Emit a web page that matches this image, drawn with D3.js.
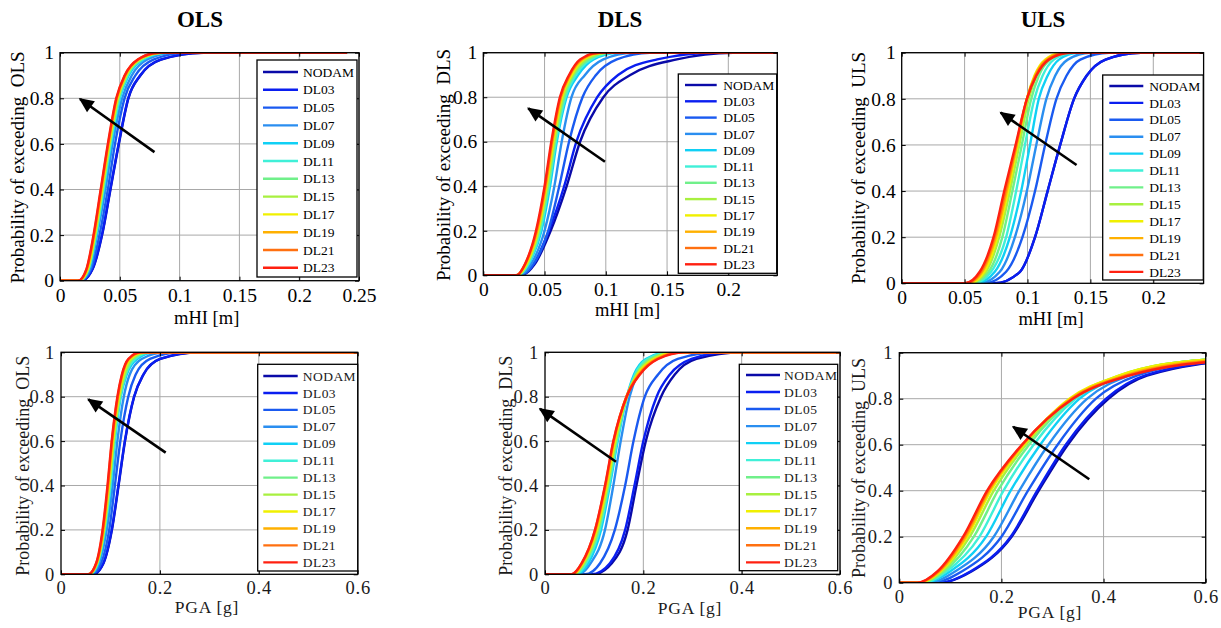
<!DOCTYPE html>
<html>
<head>
<meta charset="utf-8">
<script src="https://cdn.jsdelivr.net/npm/d3@7"></script>
<style>
  body { margin: 0; background: #fff; }
  svg { display: block; }
  text { font-family: 'Liberation Serif', 'Times New Roman', serif; }
</style>
</head>
<body>
<svg width="1221" height="628"></svg>
<script>
var svg = d3.select('svg')

// ---- data ----
const series = ['NODAM', 'DL03', 'DL05', 'DL07', 'DL09', 'DL11', 'DL13', 'DL15', 'DL17', 'DL19', 'DL21', 'DL23']
const colors = ['#0a0aa8', '#0a1ef0', '#1a5af0', '#2a8ef0', '#10d0f5', '#40f0d8',
  '#70f08a', '#a8f040', '#f0f000', '#ffb000', '#ff7010', '#ff2010']

const probLevels = [0, 0.05, 0.2, 0.4, 0.6, 0.8, 0.9, 0.97, 1]

// x value (mHI or PGA) where each curve reaches probLevels, same order as series
const olsMhi = [
  [0.018, 0.0272, 0.0352, 0.0422, 0.0492, 0.0572, 0.0672, 0.0845, 0.12],
  [0.018, 0.027, 0.035, 0.042, 0.049, 0.057, 0.067, 0.084, 0.118],
  [0.017, 0.026, 0.033, 0.040, 0.046, 0.054, 0.063, 0.078, 0.105],
  [0.017, 0.025, 0.031, 0.038, 0.044, 0.052, 0.060, 0.073, 0.095],
  [0.016, 0.024, 0.0303, 0.0366, 0.0427, 0.050, 0.0575, 0.070, 0.089],
  [0.016, 0.0238, 0.030, 0.0362, 0.0422, 0.0495, 0.0565, 0.0685, 0.087],
  [0.016, 0.0236, 0.0296, 0.0358, 0.0418, 0.049, 0.056, 0.068, 0.086],
  [0.016, 0.0233, 0.0293, 0.0354, 0.0414, 0.0485, 0.0555, 0.067, 0.085],
  [0.016, 0.023, 0.029, 0.035, 0.041, 0.048, 0.055, 0.066, 0.084],
  [0.0155, 0.0225, 0.0286, 0.0346, 0.0406, 0.0476, 0.0546, 0.0656, 0.083],
  [0.0152, 0.0222, 0.0283, 0.0343, 0.0403, 0.0473, 0.0543, 0.0653, 0.083],
  [0.015, 0.022, 0.028, 0.034, 0.040, 0.047, 0.054, 0.065, 0.082]
]
const dlsMhi = [
  [0.031, 0.042, 0.055, 0.068, 0.079, 0.098, 0.120, 0.158, 0.204],
  [0.030, 0.041, 0.0535, 0.066, 0.076, 0.093, 0.110, 0.142, 0.188],
  [0.030, 0.041, 0.053, 0.062, 0.070, 0.081, 0.092, 0.109, 0.136],
  [0.029, 0.039, 0.050, 0.058, 0.064, 0.072, 0.083, 0.098, 0.122],
  [0.0285, 0.037, 0.0475, 0.0545, 0.060, 0.068, 0.0775, 0.090, 0.11],
  [0.0285, 0.0365, 0.0465, 0.0535, 0.0592, 0.067, 0.0755, 0.088, 0.106],
  [0.028, 0.036, 0.0457, 0.053, 0.0585, 0.066, 0.074, 0.086, 0.103],
  [0.028, 0.0355, 0.045, 0.052, 0.0578, 0.065, 0.073, 0.084, 0.10],
  [0.0275, 0.035, 0.0445, 0.0515, 0.057, 0.064, 0.072, 0.082, 0.098],
  [0.027, 0.0345, 0.044, 0.051, 0.0565, 0.0635, 0.071, 0.081, 0.096],
  [0.027, 0.034, 0.0435, 0.0505, 0.056, 0.063, 0.0705, 0.080, 0.095],
  [0.027, 0.034, 0.043, 0.050, 0.0555, 0.0625, 0.070, 0.079, 0.094]
]
const ulsMhi = [
  [0.074, 0.094, 0.106, 0.116, 0.126, 0.137, 0.147, 0.162, 0.19],
  [0.074, 0.094, 0.106, 0.116, 0.126, 0.137, 0.147, 0.162, 0.19],
  [0.066, 0.083, 0.096, 0.106, 0.114, 0.123, 0.131, 0.142, 0.165],
  [0.062, 0.078, 0.090, 0.0995, 0.107, 0.115, 0.122, 0.132, 0.150],
  [0.059, 0.074, 0.086, 0.095, 0.102, 0.109, 0.116, 0.125, 0.140],
  [0.057, 0.071, 0.083, 0.091, 0.098, 0.1055, 0.112, 0.121, 0.136],
  [0.055, 0.069, 0.080, 0.088, 0.0955, 0.103, 0.109, 0.118, 0.132],
  [0.054, 0.067, 0.0775, 0.086, 0.0935, 0.101, 0.107, 0.116, 0.130],
  [0.053, 0.0655, 0.076, 0.0845, 0.092, 0.0995, 0.1055, 0.114, 0.128],
  [0.052, 0.064, 0.0748, 0.0835, 0.0915, 0.0995, 0.106, 0.115, 0.130],
  [0.051, 0.063, 0.0738, 0.0825, 0.091, 0.0995, 0.1065, 0.116, 0.132],
  [0.050, 0.062, 0.073, 0.0815, 0.0905, 0.0995, 0.107, 0.117, 0.134]
]
const olsPga = [
  [0.065, 0.086, 0.103, 0.1165, 0.1295, 0.148, 0.167, 0.201, 0.28],
  [0.065, 0.0855, 0.1025, 0.116, 0.129, 0.1476, 0.1665, 0.200, 0.275],
  [0.062, 0.081, 0.0975, 0.109, 0.120, 0.136, 0.151, 0.180, 0.24],
  [0.060, 0.077, 0.0925, 0.1045, 0.114, 0.127, 0.139, 0.163, 0.21],
  [0.058, 0.075, 0.089, 0.1005, 0.109, 0.121, 0.133, 0.154, 0.19],
  [0.058, 0.074, 0.088, 0.0995, 0.108, 0.120, 0.131, 0.150, 0.183],
  [0.057, 0.0735, 0.0875, 0.0985, 0.107, 0.119, 0.130, 0.146, 0.177],
  [0.057, 0.073, 0.087, 0.0975, 0.106, 0.118, 0.128, 0.143, 0.172],
  [0.056, 0.0725, 0.086, 0.0965, 0.105, 0.1165, 0.126, 0.140, 0.168],
  [0.056, 0.072, 0.0855, 0.0955, 0.104, 0.1155, 0.1245, 0.138, 0.165],
  [0.055, 0.0715, 0.0848, 0.0948, 0.103, 0.1148, 0.1238, 0.137, 0.162],
  [0.055, 0.071, 0.084, 0.094, 0.1025, 0.114, 0.123, 0.136, 0.16]
]
const dlsPga = [
  [0.098, 0.136, 0.168, 0.186, 0.205, 0.236, 0.264, 0.308, 0.40],
  [0.095, 0.132, 0.163, 0.182, 0.200, 0.227, 0.254, 0.298, 0.37],
  [0.081, 0.112, 0.142, 0.163, 0.180, 0.203, 0.230, 0.270, 0.35],
  [0.068, 0.093, 0.122, 0.139, 0.154, 0.172, 0.188, 0.213, 0.26],
  [0.064, 0.088, 0.114, 0.132, 0.148, 0.1665, 0.181, 0.205, 0.25],
  [0.062, 0.084, 0.111, 0.130, 0.1465, 0.1665, 0.183, 0.208, 0.255],
  [0.060, 0.081, 0.109, 0.1285, 0.145, 0.1665, 0.185, 0.213, 0.26],
  [0.058, 0.079, 0.107, 0.127, 0.1435, 0.1665, 0.187, 0.218, 0.265],
  [0.057, 0.077, 0.105, 0.1255, 0.142, 0.166, 0.188, 0.222, 0.27],
  [0.056, 0.076, 0.1035, 0.124, 0.1405, 0.1655, 0.190, 0.225, 0.275],
  [0.055, 0.075, 0.102, 0.1225, 0.1395, 0.1655, 0.192, 0.228, 0.28],
  [0.054, 0.0746, 0.1017, 0.122, 0.139, 0.166, 0.193, 0.230, 0.285]
]
const ulsPga = [
  [0.080, 0.142, 0.220, 0.273, 0.330, 0.410, 0.485, 0.68, 1.05],
  [0.080, 0.140, 0.218, 0.270, 0.326, 0.405, 0.480, 0.67, 1.05],
  [0.065, 0.123, 0.200, 0.252, 0.310, 0.385, 0.465, 0.64, 1.0],
  [0.057, 0.110, 0.185, 0.235, 0.292, 0.368, 0.450, 0.62, 0.98],
  [0.050, 0.100, 0.170, 0.218, 0.276, 0.353, 0.440, 0.60, 0.95],
  [0.045, 0.093, 0.157, 0.204, 0.263, 0.345, 0.435, 0.60, 0.95],
  [0.042, 0.088, 0.146, 0.193, 0.254, 0.340, 0.432, 0.60, 0.95],
  [0.040, 0.084, 0.138, 0.185, 0.248, 0.336, 0.430, 0.60, 0.95],
  [0.038, 0.081, 0.133, 0.179, 0.244, 0.333, 0.430, 0.60, 0.95],
  [0.037, 0.079, 0.130, 0.176, 0.242, 0.336, 0.440, 0.63, 1.0],
  [0.036, 0.077, 0.127, 0.174, 0.241, 0.338, 0.445, 0.65, 1.0],
  [0.035, 0.075, 0.125, 0.172, 0.240, 0.340, 0.450, 0.66, 1.0]
]

// arrows [tail, head] in data units
const arrowOlsMhi = [[0.079, 0.564], [0.0167, 0.797]]
const arrowDlsMhi = [[0.0993, 0.51], [0.0367, 0.75]]
const arrowUlsMhi = [[0.139, 0.513], [0.0787, 0.74]]
const arrowOlsPga = [[0.2117, 0.548], [0.0552, 0.788]]
const arrowDlsPga = [[0.1444, 0.507], [-0.0102, 0.745]]
const arrowUlsPga = [[0.372, 0.45], [0.223, 0.678]]

const yTicks = [0, 0.2, 0.4, 0.6, 0.8, 1]
const mhiTicksWide = [0, 0.05, 0.1, 0.15, 0.2, 0.25]
const mhiTicks = [0, 0.05, 0.1, 0.15, 0.2]
const pgaTicks = [0, 0.2, 0.4, 0.6]

// ---- layout ----
const panels = [
  {data: olsMhi, arrow: arrowOlsMhi, title: 'OLS', titleX: 200, xMax: 0.25, lineEnd: 0.24, xTicks: mhiTicksWide,
    xLabel: 'mHI [m]', yLabel: 'Probability of exceeding  OLS', x0: 60, x1: 359, y0: 52.7, y1: 280.7,
    xl: [206.7, 324], yl: [17.5, 167.5], fs: 18.5, ls: 0,
    legend: {x0: 257, y0: 60, x1: 357, y1: 277, row0: 72, dy: 17.8, lx0: 263, lx1: 298, tx: 303}},
  {data: dlsMhi, arrow: arrowDlsMhi, title: 'DLS', titleX: 620, xMax: 0.24, lineEnd: 0.24, xTicks: mhiTicks,
    xLabel: 'mHI [m]', yLabel: 'Probability of exceeding  DLS', x0: 483.3, x1: 777.3, y0: 52.7, y1: 275.3,
    xl: [627.5, 316], yl: [443, 165], fs: 18.5, ls: 0,
    legend: {x0: 678.3, y0: 74, x1: 776.7, y1: 273.3, row0: 85, dy: 16.3, lx0: 685, lx1: 716.7, tx: 723.3}},
  {data: ulsMhi, arrow: arrowUlsMhi, title: 'ULS', titleX: 1043, xMax: 0.24, lineEnd: 0.24, xTicks: mhiTicks,
    xLabel: 'mHI [m]', yLabel: 'Probability of exceeding  ULS', x0: 901.7, x1: 1203.6, y0: 52.7, y1: 283.3,
    xl: [1051, 325], yl: [858, 168], fs: 18.5, ls: 0,
    legend: {x0: 1102.7, y0: 75, x1: 1203.3, y1: 280, row0: 86, dy: 16.9, lx0: 1109.3, lx1: 1143.3, tx: 1149.3}},
  {data: olsPga, arrow: arrowOlsPga, xMax: 0.6, lineEnd: 0.6, xTicks: pgaTicks,
    xLabel: 'PGA [g]', yLabel: 'Probability of exceeding  OLS', x0: 61, x1: 357.7, y0: 352.3, y1: 574.3,
    xl: [207, 612.5], yl: [22.5, 465.8], fs: 17.5, ls: 0.8,
    legend: {x0: 257.7, y0: 364.3, x1: 357.7, y1: 571, row0: 376, dy: 16.94, lx0: 263.3, lx1: 297.7, tx: 302.7}},
  {data: dlsPga, arrow: arrowDlsPga, xMax: 0.6, lineEnd: 0.6, xTicks: pgaTicks,
    xLabel: 'PGA [g]', yLabel: 'Probability of exceeding  DLS', x0: 545, x1: 840, y0: 352.3, y1: 574.3,
    xl: [690, 613.5], yl: [506, 465.8], fs: 17.5, ls: 0.8,
    legend: {x0: 739.3, y0: 364.3, x1: 837.7, y1: 570.7, row0: 375, dy: 17.03, lx0: 746, lx1: 780, tx: 784}},
  {data: ulsPga, arrow: arrowUlsPga, xMax: 0.6, lineEnd: 0.6, xTicks: pgaTicks,
    xLabel: 'PGA [g]', yLabel: 'Probability of exceeding  ULS', x0: 899.3, x1: 1205.7, y0: 352.7, y1: 582.7,
    xl: [1050, 617.5], yl: [859, 468], fs: 17.5, ls: 0.8, legend: null}
]

svg.append('defs').append('marker')
    .attr('id', 'head')
    .attr('viewBox', '0 0 10 10')
    .attr('refX', 9).attr('refY', 5)
    .attr('markerUnits', 'userSpaceOnUse')
    .attr('markerWidth', 17).attr('markerHeight', 15)
    .attr('orient', 'auto')
  .append('path')
    .attr('d', 'M0,0.5 L10,5 L0,9.5 z')
    .attr('fill', '#000')

const fmt = d3.format('~g')

panels.forEach(function (p, pi) {
  var w = p.x1 - p.x0, h = p.y1 - p.y0
  var x = d3.scaleLinear().domain([0, p.xMax]).range([0, w])
  var y = d3.scaleLinear().domain([0, 1]).range([h, 0])
  var g = svg.append('g').attr('transform', 'translate(' + p.x0 + ',' + p.y0 + ')')
  var txtFill = pi < 3 ? '#000' : '#1a1a1a'

  svg.select('defs').append('clipPath').attr('id', 'clip' + pi)
    .append('rect').attr('width', w).attr('height', h)

  // grid
  g.append('g').selectAll('line').data(p.xTicks.slice(1)).join('line')
      .attr('x1', d => x(d)).attr('x2', d => x(d)).attr('y1', 0).attr('y2', h)
      .attr('stroke', '#a8a8a8').attr('stroke-width', 1)
  g.append('g').selectAll('line').data(yTicks.slice(1)).join('line')
      .attr('x1', 0).attr('x2', w).attr('y1', d => y(d)).attr('y2', d => y(d))
      .attr('stroke', '#a8a8a8').attr('stroke-width', 1)

  // curves
  var line = d3.line().curve(d3.curveMonotoneX).x(d => x(d[0])).y(d => y(d[1]))
  var curves = p.data.map(function (q) {
    var pts = [[0, 0]].concat(q.map((v, i) => [v, probLevels[i]]))
    if (q[q.length - 1] < p.lineEnd) pts.push([p.lineEnd, 1])
    return pts
  })
  g.append('g').attr('clip-path', 'url(#clip' + pi + ')')
    .selectAll('path').data(curves).join('path')
      .attr('d', line)
      .attr('fill', 'none')
      .attr('stroke', (d, i) => colors[i])
      .attr('stroke-width', 2.4)
      .attr('stroke-linejoin', 'round')

  // axes (ticks inside, all four sides)
  var axB = g.append('g').attr('transform', 'translate(0,' + h + ')')
      .call(d3.axisBottom(x).tickValues(p.xTicks).tickFormat(fmt).tickSizeInner(-4).tickSizeOuter(0).tickPadding(7))
  var axL = g.append('g')
      .call(d3.axisLeft(y).tickValues(yTicks).tickFormat(fmt).tickSizeInner(-4).tickSizeOuter(0).tickPadding(6))
  g.append('g').call(d3.axisTop(x).tickValues(p.xTicks).tickFormat('').tickSizeInner(-4).tickSizeOuter(0))
  g.append('g').attr('transform', 'translate(' + w + ',0)')
      .call(d3.axisRight(y).tickValues(yTicks).tickFormat('').tickSizeInner(-4).tickSizeOuter(0))
  g.selectAll('.domain').remove()
  g.selectAll('.tick line').attr('stroke', '#000')
  ;[axB, axL].forEach(function (a) {
    a.selectAll('text')
        .attr('font-family', "'Liberation Serif', 'Times New Roman', serif")
        .attr('font-size', p.fs + 1)
        .attr('letter-spacing', p.ls)
        .attr('fill', txtFill)
  })

  g.append('rect').attr('width', w).attr('height', h)
      .attr('fill', 'none').attr('stroke', '#000').attr('stroke-width', 1.3)

  // legend
  if (p.legend) {
    var L = p.legend
    svg.append('rect')
        .attr('x', L.x0).attr('y', L.y0).attr('width', L.x1 - L.x0).attr('height', L.y1 - L.y0)
        .attr('fill', '#fff').attr('stroke', '#000').attr('stroke-width', 1.3)
    var items = svg.append('g').selectAll('g').data(series).join('g')
        .attr('transform', (d, i) => 'translate(0,' + (L.row0 + i * L.dy) + ')')
    items.append('line')
        .attr('x1', L.lx0).attr('x2', L.lx1)
        .attr('stroke', (d, i) => colors[i]).attr('stroke-width', 2.4)
    items.append('text')
        .attr('x', L.tx).attr('y', 4.6)
        .attr('font-size', 13.5)
        .attr('letter-spacing', p.ls * 0.6)
        .attr('fill', txtFill)
        .text(d => d)
  }

  // arrow
  svg.append('line')
      .attr('x1', p.x0 + x(p.arrow[0][0])).attr('y1', p.y0 + y(p.arrow[0][1]))
      .attr('x2', p.x0 + x(p.arrow[1][0])).attr('y2', p.y0 + y(p.arrow[1][1]))
      .attr('stroke', '#000').attr('stroke-width', 2.6)
      .attr('marker-end', 'url(#head)')

  // labels
  svg.append('text')
      .attr('x', p.xl[0]).attr('y', p.xl[1])
      .attr('text-anchor', 'middle')
      .attr('font-size', p.fs)
      .attr('letter-spacing', p.ls)
      .attr('fill', txtFill)
      .text(p.xLabel)
  svg.append('text')
      .attr('transform', 'translate(' + p.yl[0] + ',' + p.yl[1] + ') rotate(-90)')
      .attr('text-anchor', 'middle')
      .attr('dy', '0.35em')
      .attr('font-size', p.fs + 0.5)
      .attr('fill', txtFill)
      .style('white-space', 'pre')
      .text(p.yLabel)
  if (p.title) {
    svg.append('text')
        .attr('x', p.titleX).attr('y', 27)
        .attr('text-anchor', 'middle')
        .attr('font-size', 23)
        .attr('font-weight', 'bold')
        .text(p.title)
  }
})
</script>
</body>
</html>
